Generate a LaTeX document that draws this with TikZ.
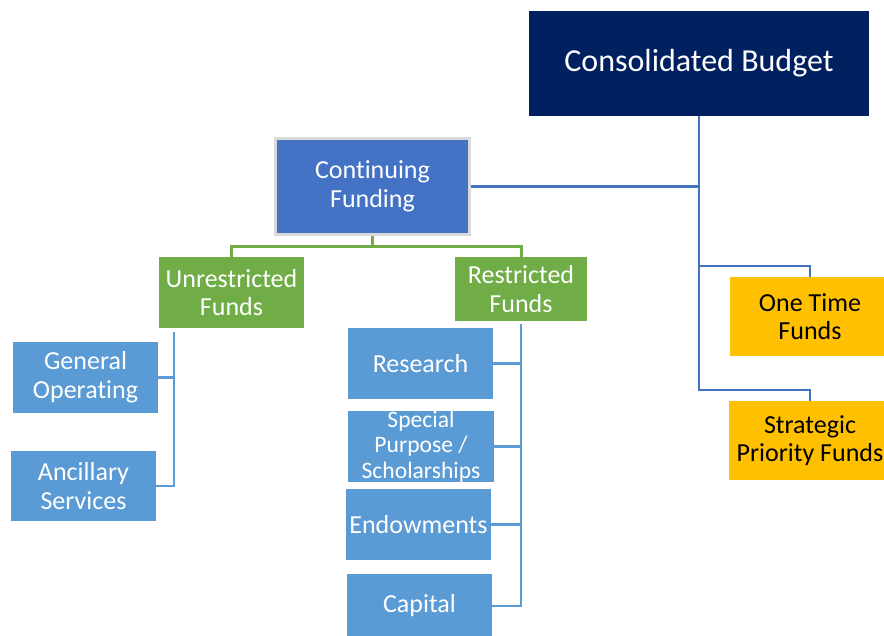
\documentclass[tikz,border=0pt]{standalone}
\usepackage{fontspec}
\setmainfont[Ligatures=NoCommon]{Carlito}
\definecolor{navy}{HTML}{002060}
\definecolor{accblue}{HTML}{4472C4}
\definecolor{accgreen}{HTML}{70AD47}
\definecolor{lightblue}{HTML}{5B9BD5}
\definecolor{gold}{HTML}{FFC000}
\definecolor{bordergray}{HTML}{D9D9D9}
\tikzset{
  box/.style={rectangle, inner sep=0pt, align=center, text=white,
    font=\fontsize{26}{28.6}\selectfont},
  bluebox/.style={box, fill=lightblue},
  greenbox/.style={box, fill=accgreen},
  goldbox/.style={box, fill=gold, text=black},
  mainline/.style={draw=accblue, line width=2.8pt},
  greenline/.style={draw=accgreen, line width=3pt},
  subline/.style={draw=lightblue, line width=2.8pt},
}
\begin{document}
\begin{tikzpicture}[x=1pt, y=-1pt]
\useasboundingbox (0,0) rectangle (884,635);
\clip (0,0) rectangle (884,635);
% nodes
\node[box, fill=navy, minimum width=340pt, minimum height=105pt,
  font=\fontsize{32}{35}\selectfont] (cb) at (699,63.5) {Consolidated Budget};
\node[box, fill=accblue, draw=bordergray, line width=3pt,
  minimum width=194pt, minimum height=96pt] (cf) at (372.5,186.5) {Continuing\\Funding};
\node[greenbox, minimum width=145pt, minimum height=71pt] (uf) at (231.5,292.5) {Unrestricted\\Funds};
\node[greenbox, minimum width=132pt, minimum height=64pt] (rf) at (521,289) {Restricted\\Funds};
\node[bluebox, minimum width=145pt, minimum height=71pt] (go) at (85.5,377.5) {General\\Operating};
\node[bluebox, minimum width=145pt, minimum height=70pt] (as) at (83.5,486) {Ancillary\\Services};
\node[bluebox, minimum width=145pt, minimum height=71pt] (re) at (420.5,363.5) {Research};
\node[bluebox, minimum width=146pt, minimum height=71pt,
  font=\fontsize{23.6}{25.5}\selectfont] (sp) at (421,446.5) {Special\\Purpose /\\Scholarships};
\node[bluebox, minimum width=145pt, minimum height=71pt] (en) at (418.5,524.5) {Endowments};
\node[bluebox, minimum width=145pt, minimum height=64pt] (ca) at (419.5,606) {Capital};
\node[goldbox, minimum width=160pt, minimum height=79pt] (ot) at (810,316.5) {One Time\\Funds};
\node[goldbox, minimum width=162pt, minimum height=79pt] (sf) at (810,440.5) {Strategic\\Priority Funds};
% junction coordinates
\coordinate (bj1) at (699,266);
\coordinate (bj2) at (699,390);
\coordinate (gj) at (372.5,246);
\coordinate (ut) at (174,332);
\coordinate (rt) at (521,324);
% main blue connectors
\draw[mainline] (cb.south) -- (bj2) -| (sf.north);
\draw[mainline] (bj1) -| (ot.north);
\draw[mainline] (cf.east) -- (cb.south |- cf.east);
% green connectors
\draw[greenline] (cf.south) -- (gj);
\draw[greenline] (gj) -| (uf.north);
\draw[greenline] (gj) -| (rf.north);
% sub connectors
\draw[subline] (ut) |- (go.east);
\draw[subline] (ut) |- (as.east);
\draw[subline] (rt) |- (re.east);
\draw[subline] (rt) |- (sp.east);
\draw[subline] (rt) |- (en.east);
\draw[subline] (rt) |- (ca.east);
\end{tikzpicture}
\end{document}
